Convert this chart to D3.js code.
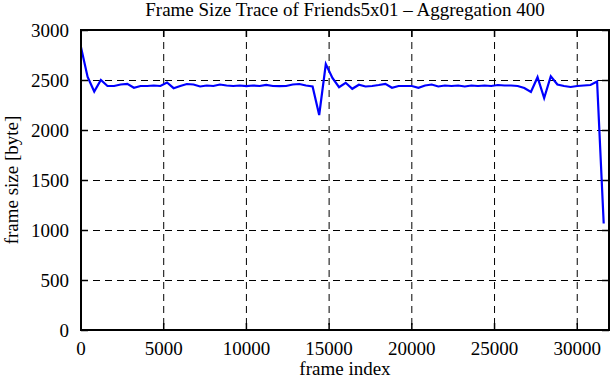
<!DOCTYPE html>
<html>
<head>
<meta charset="utf-8">
<script src="https://cdn.jsdelivr.net/npm/d3@7"></script>
<style>
	body { margin: 0; background: #fff; }
	svg { display: block; }
	text { font-family: 'Liberation Serif', 'DejaVu Serif', serif; fill: #000; }
	.grid line { stroke: #000; stroke-width: 1; stroke-dasharray: 7,5; }
	.tick-mark { stroke: #000; stroke-width: 1.5; }
</style>
</head>
<body>
<div class="chart"></div>
<script>
const title = 'Frame Size Trace of Friends5x01 \u2013 Aggregation 400'
const xLabel = 'frame index'
const yLabel = 'frame size [byte]'

// one point per 400 aggregated frames, starting at frame 0
const aggregation = 400
const frameSizes = [
	2828, 2530, 2385, 2500, 2440, 2440, 2455, 2462, 2422, 2440,
	2440, 2445, 2440, 2475, 2418, 2440, 2460, 2455, 2435, 2445,
	2440, 2455, 2445, 2440, 2445, 2438, 2445, 2440, 2452, 2440,
	2438, 2440, 2455, 2460, 2445, 2435, 2150, 2660, 2520, 2428,
	2472, 2412, 2452, 2435, 2440, 2450, 2462, 2422, 2440, 2440,
	2440, 2422, 2445, 2455, 2435, 2445, 2440, 2445, 2435, 2445,
	2440, 2445, 2440, 2450, 2445, 2445, 2440, 2420, 2380, 2528,
	2320, 2538, 2455, 2440, 2430, 2440, 2445, 2450, 2485, 1065
]
const xTicks = [0, 5000, 10000, 15000, 20000, 25000, 30000]
const yTicks = [0, 500, 1000, 1500, 2000, 2500, 3000]
const xMax = 31920
const yMax = 3000

const width = 611
const height = 380
const plot = { left: 81, right: 609, top: 30, bottom: 330 }
const tickLen = 7
const fontSize = 19

const data = frameSizes.map((v, i) => ({ frame: i * aggregation, size: v }))

const scaleX = d3.scaleLinear()
	.domain([0, xMax])
	.range([plot.left, plot.right])

const scaleY = d3.scaleLinear()
	.domain([0, yMax])
	.range([plot.bottom, plot.top])

const svg = d3.select('.chart')
	.append('svg')
	.attr('width', width)
	.attr('height', height)

// dashed grid
const grid = svg.append('g').attr('class', 'grid')

grid.selectAll('.gx')
	.data(xTicks.filter(d => d > 0))
	.enter().append('line')
		.attr('x1', scaleX)
		.attr('x2', scaleX)
		.attr('y1', plot.top)
		.attr('y2', plot.bottom)

grid.selectAll('.gy')
	.data(yTicks.filter(d => d > 0 && d < yMax))
	.enter().append('line')
		.attr('x1', plot.left)
		.attr('x2', plot.right)
		.attr('y1', d => Math.round(scaleY(d)) + 0.5)
		.attr('y2', d => Math.round(scaleY(d)) + 0.5)

// inward ticks on all four sides
const ticks = svg.append('g')

xTicks.forEach(d => {
	ticks.append('line').attr('class', 'tick-mark')
		.attr('x1', scaleX(d)).attr('x2', scaleX(d))
		.attr('y1', plot.bottom).attr('y2', plot.bottom - tickLen)
	ticks.append('line').attr('class', 'tick-mark')
		.attr('x1', scaleX(d)).attr('x2', scaleX(d))
		.attr('y1', plot.top).attr('y2', plot.top + tickLen)
})

yTicks.forEach(d => {
	const y = Math.round(scaleY(d)) + 0.5
	ticks.append('line').attr('class', 'tick-mark')
		.attr('x1', plot.left).attr('x2', plot.left + tickLen)
		.attr('y1', y).attr('y2', y)
	ticks.append('line').attr('class', 'tick-mark')
		.attr('x1', plot.right).attr('x2', plot.right - tickLen)
		.attr('y1', y).attr('y2', y)
})

// trace
const line = d3.line()
	.x(d => scaleX(d.frame))
	.y(d => scaleY(d.size))

svg.append('path')
	.datum(data)
	.attr('d', line)
	.attr('fill', 'none')
	.attr('stroke', '#0000ff')
	.attr('stroke-width', 2.2)
	.attr('stroke-linejoin', 'miter')

// frame
svg.append('rect')
	.attr('x', plot.left)
	.attr('y', plot.top)
	.attr('width', plot.right - plot.left)
	.attr('height', plot.bottom - plot.top)
	.attr('fill', 'none')
	.attr('stroke', '#000')
	.attr('stroke-width', 2)

// tick labels
svg.append('g')
	.selectAll('text')
	.data(xTicks)
	.enter().append('text')
		.attr('x', scaleX)
		.attr('y', 355)
		.attr('text-anchor', 'middle')
		.attr('font-size', fontSize)
		.text(d => d)

svg.append('g')
	.selectAll('text')
	.data(yTicks)
	.enter().append('text')
		.attr('x', 69)
		.attr('y', d => scaleY(d) + 6.5)
		.attr('text-anchor', 'end')
		.attr('font-size', fontSize)
		.text(d => d)

// titles
svg.append('text')
	.attr('x', (plot.left + plot.right) / 2)
	.attr('y', 16)
	.attr('text-anchor', 'middle')
	.attr('font-size', fontSize)
	.text(title)

svg.append('text')
	.attr('x', (plot.left + plot.right) / 2)
	.attr('y', 375)
	.attr('text-anchor', 'middle')
	.attr('font-size', fontSize)
	.text(xLabel)

svg.append('text')
	.attr('transform', `translate(18, ${(plot.top + plot.bottom) / 2}) rotate(-90)`)
	.attr('text-anchor', 'middle')
	.attr('font-size', fontSize)
	.text(yLabel)
</script>
</body>
</html>
